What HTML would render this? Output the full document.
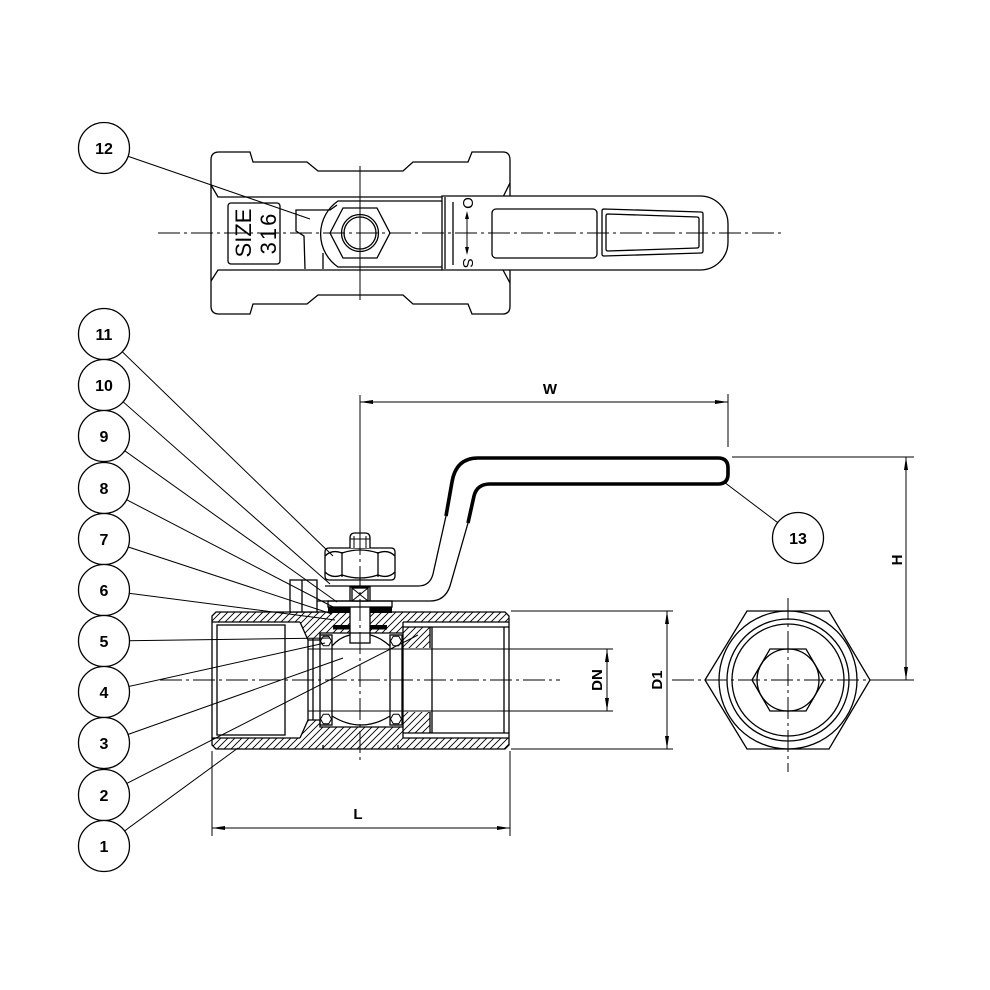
<!DOCTYPE html>
<html><head><meta charset="utf-8">
<style>
html,body{margin:0;padding:0;background:#fff;}
svg{display:block;}
text{font-family:"Liberation Sans",Arial,sans-serif;fill:#000;}
</style></head><body>
<svg width="990" height="990" viewBox="0 0 990 990" xmlns="http://www.w3.org/2000/svg">
<defs>
<pattern id="h" patternUnits="userSpaceOnUse" width="7" height="7">
<path d="M-1,8 L8,-1 M-1,1 L1,-1 M6,8 L8,6" stroke="#000" stroke-width="0.9"/>
</pattern>
</defs>
<rect width="990" height="990" fill="#fff"/>

<!-- ================= TOP VIEW ================= -->
<g fill="none" stroke="#000" stroke-width="1.3">
  <path d="M211,306 L211,160 Q211,152 219,152 L250,152 L253,162 L307,162 L318,171 L403,171 L413,162 L468,162 L472,152 L503,152 Q510,152 510,160 L510,197"/>
  <path d="M211,306 Q211,314 219,314 L250,314 L253,304 L307,304 L318,295 L403,295 L413,304 L468,304 L472,314 L503,314 Q510,314 510,306 L510,269"/>
  <path d="M211,185 L218,197 L442,197"/>
  <path d="M211,281 L218,270 L442,270"/>
  <path d="M510,183 L503,197"/>
  <path d="M510,283 L503,270"/>
  <rect x="228" y="203" width="52" height="61" rx="3"/>
  <!-- neck -->
  <path d="M442,201 L338,201 A40,40 0 0 0 338,267 L442,267"/>
  <!-- tab -->
  <path d="M337,205 L330,210 L296,210 L296,231 L304,236 L305,269"/>
  <path d="M323,253 L323,269"/>
  <!-- nut -->
  <polygon points="330,233 343,208 377,208 390,233 377,258 343,258"/>
  <circle cx="360" cy="233" r="18.5"/>
  <circle cx="360" cy="233" r="16"/>
  <!-- lever -->
  <path d="M442,196 L700,196 A28,28 0 0 1 728,224 L728,242 A28,28 0 0 1 700,270 L442,270 Z" fill="#fff"/>
  <path d="M445,197 L445,269"/>
  <path d="M453,202 L453,265"/>
  <rect x="492" y="209" width="105" height="49" rx="4"/>
  <path d="M604,209 L701,212 Q703,212 703,214 L703,251 Q703,253 701,253 L604,256 Q602,256 602,254 L602,211 Q602,209 604,209 Z"/>
  <path d="M608,214 L697,217 Q699,217 699,219 L699,246 Q699,248 697,248 L608,251 Q606,251 606,249 L606,216 Q606,214 608,214 Z"/>
  <path d="M467,214 L467,252" stroke-width="1"/>
</g>
<polygon points="467,211 465,219 469,219" fill="#000"/>
<polygon points="467,255 465,247 469,247" fill="#000"/>
<text x="0" y="0" font-size="15" transform="translate(463,203) rotate(90)" text-anchor="middle">O</text>
<text x="0" y="0" font-size="15" transform="translate(463,263) rotate(90)" text-anchor="middle">S</text>
<text x="0" y="0" font-size="22" transform="translate(251,233) rotate(-90)" text-anchor="middle">SIZE</text>
<text x="0" y="0" font-size="22" letter-spacing="2" transform="translate(276,233) rotate(-90)" text-anchor="middle">316</text>
<!-- top view centerlines -->
<g stroke="#000" stroke-width="1" stroke-dasharray="22,4,3,4" fill="none">
  <path d="M158,233 L782,233"/>
</g>
<path d="M360,166 L360,300" stroke="#000" stroke-width="1"/>

<!-- ================= SIDE VIEW ================= -->
<!-- hatched regions -->
<g fill="url(#h)" stroke="none">
  <path d="M212,616 L216,612 L505,612 L509,616 L509,622 L212,622 Z"/>
  <path d="M300,622 L403,622 L403,633 L320,633 L320,640 L308,640 Z"/>
  <path d="M403,622 L509,622 L509,627 L403,627 Z" fill="#fff"/>
  <rect x="403" y="627" width="27" height="21"/>
  <rect x="403" y="712" width="27" height="21"/>
  <path d="M212,738 L509,738 L509,745 L505,749 L216,749 L212,745 Z"/>
  <path d="M300,738 L308,720 L320,720 L320,727 L403,727 L403,738 Z"/>
</g>
<rect x="403" y="622" width="106" height="5" fill="#fff"/>
<rect x="403" y="733" width="106" height="5" fill="#fff"/>
<!-- black seals -->
<rect x="333" y="625" width="54" height="4.5" fill="#000"/>
<rect x="328" y="607" width="64" height="6" fill="#000"/>

<g fill="none" stroke="#000" stroke-width="1.3">
  <path d="M212,616 L216,612 L505,612 L509,616 L509,745 L505,749 L216,749 L212,745 Z"/>
  <path d="M323,745 L323,749 M398,745 L398,749"/>
  <path d="M212,622 L300,622 M403,622 L509,622"/>
  <path d="M212,738 L300,738 M403,738 L509,738"/>
  <rect x="217" y="625" width="68" height="110"/>
  <path d="M300,622 L308,640 L308,720 L300,738"/>
  <path d="M313,640 L313,720"/>
  <path d="M308,640 L320,640 L320,633 L350,633 M370,633 L403,633"/>
  <path d="M308,720 L320,720 L320,727 L403,727"/>
  <path d="M403,622 L403,738"/>
  <path d="M403,627 L509,627 M403,733 L509,733"/>
  <path d="M430,627 L430,648 M430,712 L430,733"/>
  <path d="M432,627 L432,733 M504,627 L504,733"/>
  <rect x="320" y="635" width="12" height="90"/>
  <rect x="390" y="635" width="12" height="90"/>
  <path d="M308,649 L613,649 M308,711 L613,711" stroke-width="1.1"/>
  <path d="M332,646 Q340,637 350,635 M370,635 Q380,637 390,646"/>
  <path d="M332,716 Q361,734 390,716"/>
</g>
<g fill="#fff" stroke="#000" stroke-width="1">
  <polygon points="320.5,641 323.3,636.2 328.7,636.2 331.5,641 328.7,645.8 323.3,645.8"/>
  <polygon points="390.5,641 393.3,636.2 398.7,636.2 401.5,641 398.7,645.8 393.3,645.8"/>
  <polygon points="320.5,719 323.3,714.2 328.7,714.2 331.5,719 328.7,723.8 323.3,723.8"/>
  <polygon points="390.5,719 393.3,714.2 398.7,714.2 401.5,719 398.7,723.8 393.3,723.8"/>
</g>

<!-- stem, gland, nut -->
<g fill="#fff" stroke="#000" stroke-width="1.3">
  <rect x="350" y="587" width="20" height="56"/>
  <path d="M350,633 L370,633" fill="none"/>
  <rect x="328" y="601" width="64" height="6"/>
  <rect x="290" y="580" width="27" height="32"/>
  <path d="M302,580 L302,612" fill="none"/>
  <rect x="352" y="588" width="16" height="13"/>
  <path d="M352,588 L368,601 M368,588 L352,601" fill="none" stroke-width="1"/>
  <path d="M329,548 L391,548 Q395,548 395,552 L395,576 Q395,580 391,580 L329,580 Q325,580 325,576 L325,552 Q325,548 329,548 Z"/>
  <path d="M342,552 L342,577 M378,552 L378,577" fill="none"/>
  <path d="M342,553 Q360,547 378,553 M342,575 Q360,581 378,575" fill="none"/>
  <path d="M325,556 Q332,549 342,553 M378,553 Q388,549 395,556" fill="none"/>
  <path d="M325,572 Q332,579 342,575 M378,575 Q388,579 395,572" fill="none"/>
  <path d="M350,548 L350,538 Q350,533 355,533 L365,533 Q370,533 370,538 L370,548"/>
  <path d="M354,536 L354,548 M366,536 L366,548 M350,539 L370,539" fill="none" stroke-width="1"/>
</g>
<!-- handle -->
<g fill="none" stroke="#000" stroke-width="1.3">
  <path d="M325,586 L418,586 Q430,586 433,574 L446,516"/>
  <path d="M317,601 L430,601 Q445,601 450,586 L468,523"/>
</g>
<path d="M446,516 L452,482 Q456,458 478,458 L718,458 Q728,458 728,468 L728,474 Q728,484 718,484 L490,484 Q477,484 474,496 L468,523" fill="none" stroke="#000" stroke-width="3.6" stroke-linejoin="round"/>

<!-- side view centerlines -->
<g stroke="#000" stroke-width="1" stroke-dasharray="22,4,3,4" fill="none">
  <path d="M160,680 L560,680"/>
  <path d="M672,680 L892,680"/>
  <path d="M360,533 L360,764"/>
  <path d="M788,598 L788,772"/>
</g>
<path d="M360,395 L360,533" stroke="#000" stroke-width="1"/>

<!-- ================= END VIEW ================= -->
<g fill="none" stroke="#000" stroke-width="1.3">
  <polygon points="705,680 747,611 829,611 870,680 829,749 747,749"/>
  <circle cx="788" cy="680" r="69"/>
  <circle cx="788" cy="680" r="61"/>
  <circle cx="788" cy="680" r="56"/>
  <polygon points="752,680 770,649 806,649 824,680 806,711 770,711"/>
  <circle cx="788" cy="680" r="31"/>
</g>

<!-- ================= DIMENSIONS ================= -->
<g stroke="#000" stroke-width="1" fill="none">
  <path d="M360,402 L728,402"/>
  <path d="M728,394 L728,447"/>
  <path d="M732,457 L914,457"/>
  <path d="M880,680 L914,680"/>
  <path d="M906,457 L906,680"/>
  <path d="M511,611 L673,611 M511,749 L673,749"/>
  <path d="M667,611 L667,749"/>
  <path d="M607,649 L607,711"/>
  <path d="M212,751 L212,836 M510,751 L510,836"/>
  <path d="M212,828 L510,828"/>
</g>
<g fill="#000">
  <polygon points="360,402 373,400 373,404"/>
  <polygon points="728,402 715,400 715,404"/>
  <polygon points="906,457 904,470 908,470"/>
  <polygon points="906,680 904,667 908,667"/>
  <polygon points="667,611 665,624 669,624"/>
  <polygon points="667,749 665,736 669,736"/>
  <polygon points="607,649 605,662 609,662"/>
  <polygon points="607,711 605,698 609,698"/>
  <polygon points="212,828 225,826 225,830"/>
  <polygon points="510,828 497,826 497,830"/>
</g>
<g font-weight="bold" font-size="15">
  <text x="550" y="394" text-anchor="middle">W</text>
  <text x="358" y="819" text-anchor="middle">L</text>
  <text transform="translate(902,560) rotate(-90)" text-anchor="middle">H</text>
  <text transform="translate(602,680) rotate(-90)" text-anchor="middle">DN</text>
  <text transform="translate(662,680) rotate(-90)" text-anchor="middle">D1</text>
</g>

<!-- ================= CALLOUTS ================= -->
<g stroke="#000" stroke-width="1" fill="none">
  <path d="M104,148 L310,219"/>
  <path d="M104,334 L333,556"/>
  <path d="M104,385 L330,584"/>
  <path d="M104,436 L337,602"/>
  <path d="M104,488 L335,608"/>
  <path d="M104,539 L332,614"/>
  <path d="M104,590 L335,620"/>
  <path d="M104,641 L330,638"/>
  <path d="M104,692 L325,643"/>
  <path d="M104,743 L343,658"/>
  <path d="M104,795 L418,635"/>
  <path d="M104,846 L238,748"/>
  <path d="M798,538 L724,482"/>
</g>
<g fill="#fff" stroke="#000" stroke-width="1.3">
  <circle cx="104" cy="148" r="25.5"/>
  <circle cx="104" cy="334" r="25.5"/>
  <circle cx="104" cy="385" r="25.5"/>
  <circle cx="104" cy="436" r="25.5"/>
  <circle cx="104" cy="488" r="25.5"/>
  <circle cx="104" cy="539" r="25.5"/>
  <circle cx="104" cy="590" r="25.5"/>
  <circle cx="104" cy="641" r="25.5"/>
  <circle cx="104" cy="692" r="25.5"/>
  <circle cx="104" cy="743" r="25.5"/>
  <circle cx="104" cy="795" r="25.5"/>
  <circle cx="104" cy="846" r="25.5"/>
  <circle cx="798" cy="538" r="25.5"/>
</g>
<g font-weight="bold" font-size="16" text-anchor="middle">
  <text x="104" y="154">12</text>
  <text x="104" y="340">11</text>
  <text x="104" y="391">10</text>
  <text x="104" y="442">9</text>
  <text x="104" y="494">8</text>
  <text x="104" y="545">7</text>
  <text x="104" y="596">6</text>
  <text x="104" y="647">5</text>
  <text x="104" y="698">4</text>
  <text x="104" y="749">3</text>
  <text x="104" y="801">2</text>
  <text x="104" y="852">1</text>
  <text x="798" y="544">13</text>
</g>
</svg>
</body></html>
